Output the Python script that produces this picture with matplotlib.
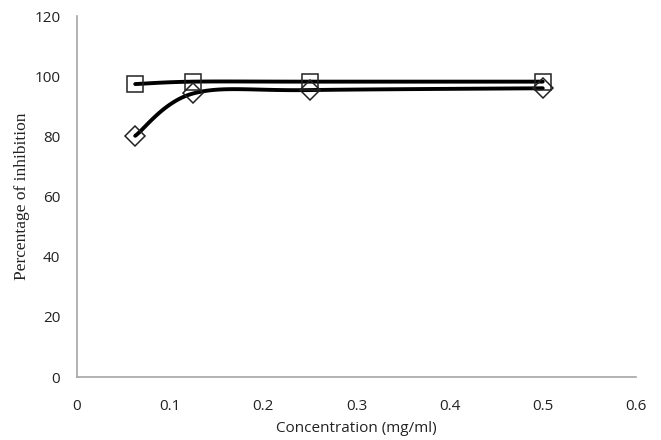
import numpy as np
import matplotlib.pyplot as plt

conc = [0.0625, 0.125, 0.25, 0.5]
series_square = [97.4, 98.2, 98.2, 98.2]
series_diamond = [80.2, 94.3, 95.4, 96.0]
x_ticks = [0, 0.1, 0.2, 0.3, 0.4, 0.5, 0.6]
y_ticks = [0, 20, 40, 60, 80, 100, 120]


def smooth(x, y, n=40):
    # Excel-like smoothed line: cubic Bezier with Catmull-Rom control points
    p = np.column_stack([x, y]).astype(float)
    p = np.vstack([p[0], p, p[-1]])
    out = []
    for i in range(1, len(p) - 2):
        p0, p1, p2, p3 = p[i - 1], p[i], p[i + 1], p[i + 2]
        c1 = p1 + (p2 - p0) / 6
        c2 = p2 - (p3 - p1) / 6
        t = np.linspace(0, 1, n)[:, None]
        seg = ((1 - t) ** 3 * p1 + 3 * (1 - t) ** 2 * t * c1
               + 3 * (1 - t) * t ** 2 * c2 + t ** 3 * p2)
        out.append(seg)
    s = np.vstack(out)
    return s[:, 0], s[:, 1]


fig = plt.figure(figsize=(6.61, 4.40), dpi=100)
ax = fig.add_axes([0.1165, 0.143, 0.8455, 0.8205])

for ys, mk, ms in [(series_square, 's', 11), (series_diamond, 'D', 10)]:
    sx, sy = smooth(conc, ys)
    ax.plot(sx, sy, color='black', lw=2.8, solid_capstyle='round', zorder=3)
    ax.plot(conc, ys, ls='none', marker=mk, ms=ms, mfc='none',
            mec='#222222', mew=1.1, zorder=4)

ax.set_xlim(0, 0.6)
ax.set_ylim(0, 120)
ax.set_xticks(x_ticks)
ax.set_yticks(y_ticks)
ax.set_xticklabels([f'{v:g}' for v in x_ticks])
ax.tick_params(length=0, labelsize=11, labelcolor='#222222')
ax.tick_params(axis='x', pad=16)
ax.tick_params(axis='y', pad=12)
for lab in ax.get_xticklabels() + ax.get_yticklabels():
    lab.set_family('Open Sans')

for side in ['top', 'right']:
    ax.spines[side].set_visible(False)
for side in ['left', 'bottom']:
    ax.spines[side].set_color('#a6a6a6')
    ax.spines[side].set_linewidth(1.2)

ax.set_xlabel('Concentration (mg/ml)', family='Open Sans', fontsize=11,
              color='#222222', labelpad=5)
ax.set_ylabel('Percentage of inhibition', family='Liberation Serif',
              fontsize=12.5, color='#222222', labelpad=3)

fig.savefig('out.png', dpi=100)
